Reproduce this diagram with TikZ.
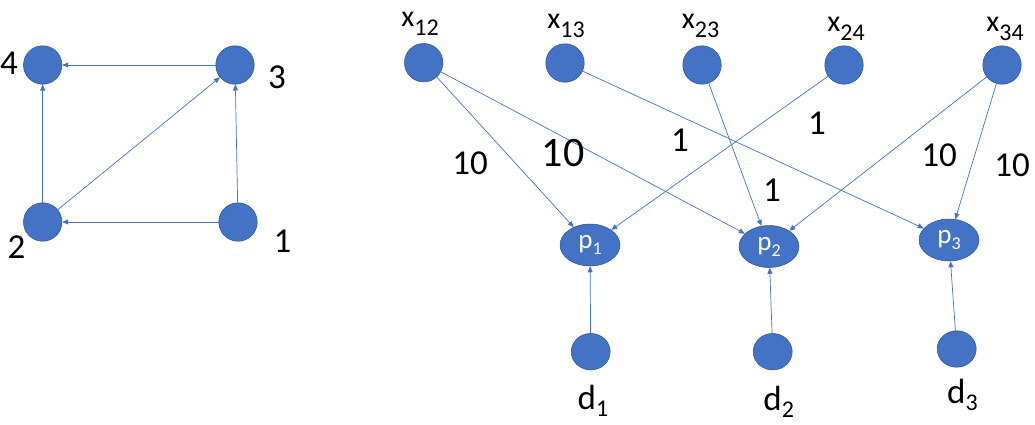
\documentclass[tikz,border=0pt]{standalone}
\usepackage{fontspec}
\setmainfont{Carlito}
\usepackage{xcolor}
\usetikzlibrary{positioning,arrows.meta,shapes.geometric}
\definecolor{nodeblue}{HTML}{4472C4}
\definecolor{nodeedge}{HTML}{2F528F}
\newcommand{\xsub}[1]{\raisebox{-9pt}{\fontsize{24}{24}\selectfont #1}}
\newcommand{\dsub}[1]{\raisebox{-7pt}{\fontsize{24}{24}\selectfont #1}}
\newcommand{\psub}[1]{\raisebox{-6pt}{\fontsize{18}{18}\selectfont #1}}

\begin{document}
\begin{tikzpicture}[
  x=1pt, y=-1pt,
  dot/.style={circle, draw=nodeedge, fill=nodeblue, line width=0.5pt, minimum size=38.5pt, inner sep=0pt},
  demand/.style={ellipse, draw=nodeedge, fill=nodeblue, line width=0.5pt, minimum width=39pt, minimum height=36.5pt, inner sep=0pt},
  price/.style={ellipse, draw=nodeedge, fill=nodeblue, line width=0.5pt, minimum width=60pt, minimum height=42pt, inner sep=0pt, text=white, font=\fontsize{27}{27}\selectfont},
  num/.style={inner sep=0pt, font=\fontsize{35}{35}\selectfont},
  bignum/.style={inner sep=0pt, font=\fontsize{42}{42}\selectfont},
  xlab/.style={inner sep=0pt, font=\fontsize{30}{30}\selectfont},
  dlab/.style={inner sep=0pt, font=\fontsize{35}{35}\selectfont},
  arr/.style={-{Triangle[length=6pt, width=5pt]}, line width=0.7pt, color=nodeblue}
]
  \useasboundingbox (0,0) rectangle (1035,424);

  % Small graph
  \node[dot] (n4) at (42.7,65) {};
  \node[dot] (n3) at (235,65) {};
  \node[dot] (n2) at (42.7,222) {};
  \node[dot] (n1) at (238,222) {};
  \node[num] (l4) at (9,63.5) {4};
  \node[num] (l3) at (277,77.5) {3};
  \node[num] (l2) at (16.5,247.5) {2};
  \node[num] (l1) at (282.5,241.5) {1};

  \draw[arr] (n3) -- (n4);
  \draw[arr] (n1) -- (n2);
  \draw[arr] (n2) -- (n4);
  \draw[arr] (n1) -- (n3);
  \draw[arr] (n2) -- (n3);

  % Edge variables
  \node[dot] (x12) at (423.7,62.7) {};
  \node[dot] (x13) at (565,63) {};
  \node[dot] (x23) at (702,65) {};
  \node[dot] (x24) at (844,65) {};
  \node[dot] (x34) at (1002,65) {};
  \node[xlab] (lx12) at (420,24) {x\xsub{12}};
  \node[xlab] (lx13) at (566,26) {x\xsub{13}};
  \node[xlab] (lx23) at (700.5,26) {x\xsub{23}};
  \node[xlab] (lx24) at (846,29) {x\xsub{24}};
  \node[xlab] (lx34) at (1005,29) {x\xsub{34}};

  % Prices and demands
  \node[price] (p1) at (590,245) {p\psub{1}};
  \node[price] (p2) at (769,246.5) {p\psub{2}};
  \node[price] (p3) at (949,240) {p\psub{3}};
  \node[demand] (d1) at (590.7,351.7) {};
  \node[demand] (d2) at (772.7,351.7) {};
  \node[demand] (d3) at (956.7,349) {};
  \node[dlab] (ld1) at (593,401) {d\dsub{1}};
  \node[dlab] (ld2) at (778.7,402) {d\dsub{2}};
  \node[dlab] (ld3) at (962.5,395) {d\dsub{3}};

  % Arrows
  \draw[arr] (x12) -- (p1);
  \draw[arr] (x12) -- (p2);
  \draw[arr] (x13) -- (p3);
  \draw[arr] (x23) -- (p2);
  \draw[arr] (x24) -- (p1);
  \draw[arr] (x34) -- (p2);
  \draw[arr] (x34) -- (p3);
  \draw[arr] (d1) -- (p1);
  \draw[arr] (d2) -- (p2);
  \draw[arr] (d3) -- (p3);

  % Weights
  \node[num] (w1) at (470,163) {10};
  \node[bignum] (w2) at (563,153) {10};
  \node[num] (w3) at (680,140) {1};
  \node[num] (w4) at (817,123) {1};
  \node[num] (w5) at (772,190) {1};
  \node[num] (w6) at (939,155) {10};
  \node[num] (w7) at (1012,165) {10};
\end{tikzpicture}
\end{document}
